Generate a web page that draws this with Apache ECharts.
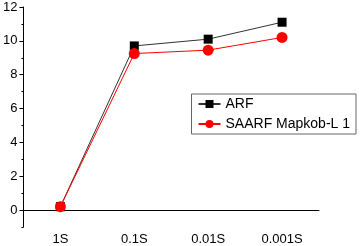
<!DOCTYPE html>
<html><head><meta charset="utf-8">
<script src="https://cdn.jsdelivr.net/npm/echarts@6/dist/echarts.min.js"></script>
<style>html,body{margin:0;padding:0;background:#fff}#c{width:360px;height:246px}</style>
</head><body><div id="c"></div>
<script>
const categories = ['1S', '0.1S', '0.01S', '0.001S'];
const arf = [0.2, 9.7, 10.1, 11.1];
const saarf = [0.2, 9.25, 9.45, 10.2];
const yMajor = [0, 2, 4, 6, 8, 10, 12];
const yMinor = [-1, 1, 3, 5, 7, 9, 11];
const seriesNames = ['ARF', 'SAARF Mapkob-L 1'];

const font = 'Liberation Sans, Arial, sans-serif';
const chart = echarts.init(document.getElementById('c'), null, {renderer: 'canvas'});
chart.setOption({
  animation: false,
  backgroundColor: '#fff',
  grid: {left: 21, right: 41, top: 7, bottom: 18, containLabel: false},
  legend: {
    right: 4, top: 94,
    orient: 'vertical',
    borderColor: '#666', borderWidth: 1,
    padding: [3, 6, 3, 6],
    itemWidth: 22, itemHeight: 10, itemGap: 6,
    textStyle: {fontFamily: font, fontSize: 14, color: '#000'},
    data: seriesNames
  },
  xAxis: [{
    type: 'category', data: categories, boundaryGap: true,
    axisLine: {lineStyle: {color: '#000', width: 1}},
    axisTick: {alignWithLabel: true, length: 4, lineStyle: {color: '#000'}},
    axisLabel: {fontFamily: font, fontSize: 13, color: '#000', margin: 6}
  }, {
    type: 'category', data: categories, boundaryGap: true, position: 'bottom',
    axisLine: {show: false},
    axisTick: {length: 2, lineStyle: {color: '#000'}},
    axisLabel: {show: false}
  }],
  yAxis: [{
    type: 'value', min: -1, max: 12, interval: 1,
    axisLine: {show: true, lineStyle: {color: '#000', width: 1}},
    axisTick: {show: true, length: 4, customValues: yMajor, lineStyle: {color: '#000'}},
    axisLabel: {fontFamily: font, fontSize: 13, color: '#000', margin: 6, customValues: yMajor},
    splitLine: {show: false}
  }, {
    type: 'value', min: -1, max: 12, interval: 1, position: 'left',
    axisLine: {show: false},
    axisTick: {show: true, length: 2, customValues: yMinor, lineStyle: {color: '#000'}},
    axisLabel: {show: false},
    splitLine: {show: false}
  }],
  series: [{
    name: seriesNames[0], type: 'line', data: arf,
    symbol: 'rect', symbolSize: 9,
    itemStyle: {color: '#000'},
    lineStyle: {color: '#333', width: 1}
  }, {
    name: seriesNames[1], type: 'line', data: saarf,
    symbol: 'circle', symbolSize: 11,
    itemStyle: {color: '#ff0000'},
    lineStyle: {color: '#ff0000', width: 1}
  }]
});
</script></body></html>
